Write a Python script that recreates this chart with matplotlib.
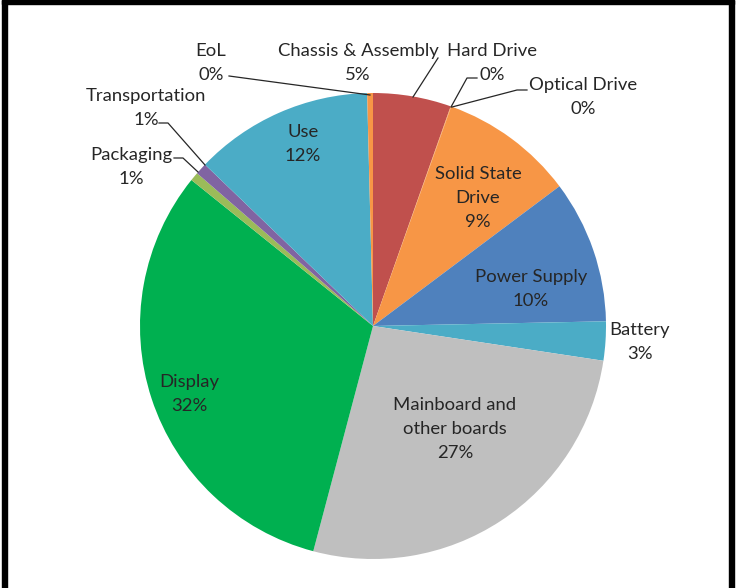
import numpy as np
import matplotlib.pyplot as plt
from matplotlib.patches import Rectangle

# slice data, clockwise from 12 o'clock
labels = ["Chassis & Assembly", "Hard Drive", "Optical Drive", "Solid State\nDrive",
          "Power Supply", "Battery", "Mainboard and\nother boards", "Display",
          "Packaging", "Transportation", "Use", "EoL"]
values = [5.4, 0.02, 0.02, 9.3, 9.9, 2.7, 26.7, 31.6, 0.6, 0.8, 12.4, 0.4]
colors = ["#C0504D", "#F79646", "#F79646", "#F79646", "#4F81BD", "#4BACC6",
          "#BFBFBF", "#00B050", "#9BBB59", "#8064A2", "#4BACC6", "#F79646"]

# label centres (pixels from top-left) and leader line paths
label_pos = [(358, 63), (492, 63), (583, 97), (478, 198), (531, 289), (640, 342),
             (455, 429), (189, 394), (131, 167), (146, 108), (303, 144), (211, 63)]
leaders = {
    0: [(438, 58), (413, 97)],
    1: [(477, 78), (467, 78), (451, 107)],
    2: [(527, 90), (517, 90), (452, 107)],
    8: [(174, 158), (183, 158), (198, 172)],
    9: [(159, 123), (168, 123), (205, 165)],
    11: [(229, 76), (370, 95)],
}

W, H = 737, 588
fig = plt.figure(figsize=(W / 100, H / 100), dpi=100)
ax = fig.add_axes([0, 0, 1, 1])

cx, cy, r = 373, H - 326, 233
ax.pie(values, colors=colors, startangle=90, counterclock=False,
       center=(cx, cy), radius=r, frame=True,
       wedgeprops=dict(linewidth=0))
ax.set_xlim(0, W)
ax.set_ylim(0, H)
ax.axis("off")

for i, (lab, v) in enumerate(zip(labels, values)):
    x, y = label_pos[i]
    ax.text(x, H - y, f"{lab}\n{v:.0f}%", ha="center", va="center",
            fontsize=13.3, family="Lato", color="#262626", linespacing=1.6)

for i, pts in leaders.items():
    xs = [p[0] for p in pts]
    ys = [H - p[1] for p in pts]
    ax.plot(xs, ys, color="#262626", lw=0.9)

# black frame (top, left, right)
ax.add_patch(Rectangle((2, 0), 5, H, color="black", zorder=5))
ax.add_patch(Rectangle((729, 0), 5, H, color="black", zorder=5))
ax.add_patch(Rectangle((2, H - 4), 732, 4, color="black", zorder=5))

fig.savefig("out.png", dpi=100)
